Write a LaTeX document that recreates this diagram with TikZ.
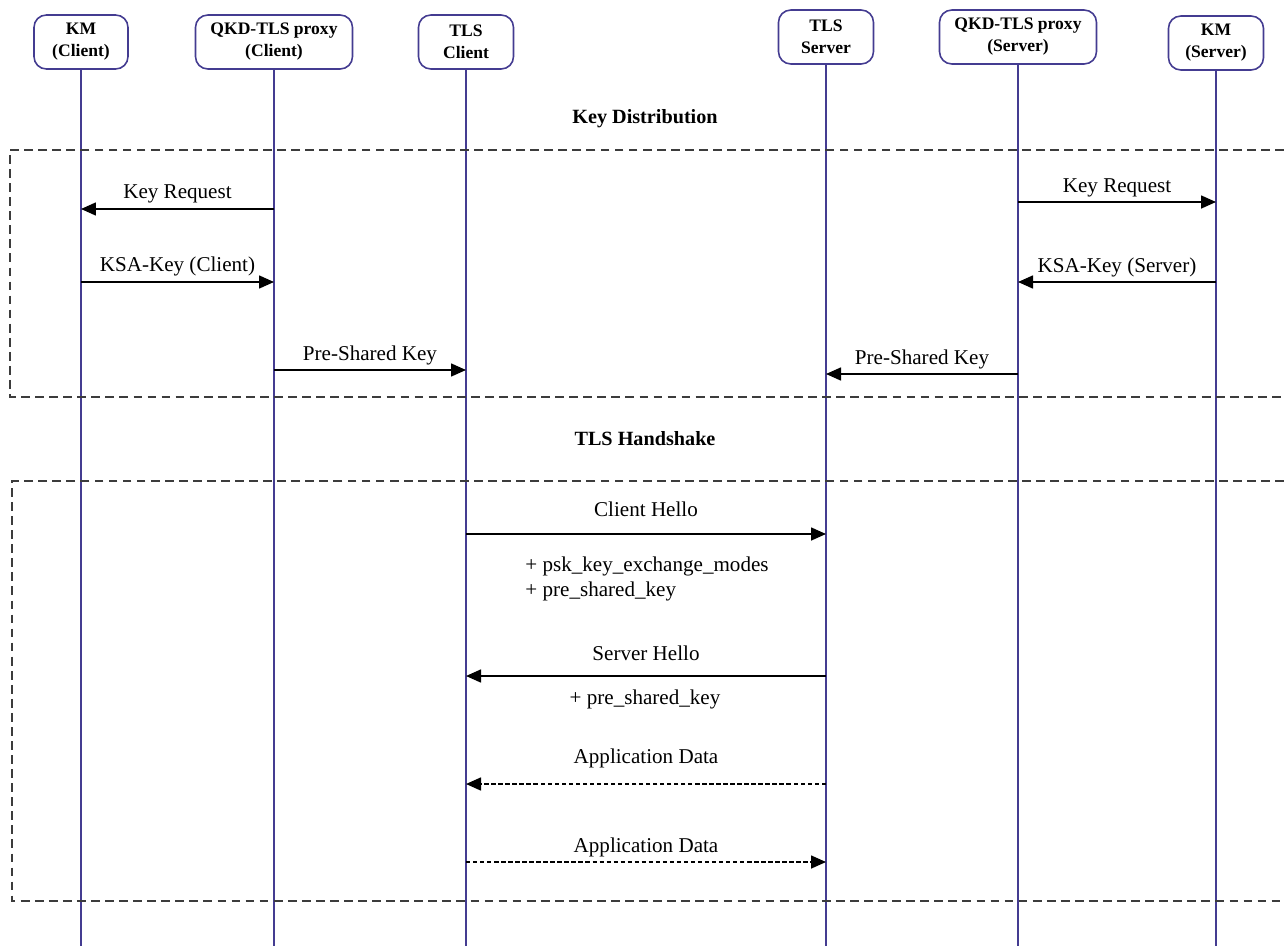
\documentclass[tikz,border=0pt]{standalone}
\usepackage{fontspec}
\setmainfont{Liberation Serif}
\usetikzlibrary{arrows.meta, calc}
\definecolor{lifeblue}{RGB}{68, 60, 145}
\definecolor{framegray}{RGB}{60, 60, 60}

\begin{document}
\begin{tikzpicture}[x=0.02cm, y=-0.02cm,
  actor/.style={draw=lifeblue, line width=0.9pt, rounded corners=7pt, fill=white, minimum height=1.08cm, align=center, font=\fontsize{10}{12.5}\selectfont\bfseries, inner sep=2pt},
  lifeline/.style={draw=lifeblue, line width=0.9pt},
  msg/.style={line width=0.9pt, -{Triangle[length=3mm, width=2.6mm]}},
  reply/.style={msg, dash pattern=on 2.5pt off 1.5pt},
  lbl/.style={font=\fontsize{12}{14}\selectfont, inner sep=1pt},
  phase/.style={font=\fontsize{11.5}{13}\selectfont\bfseries},
  frame/.style={draw=framegray, line width=0.7pt, dash pattern=on 5pt off 3pt}]

  \useasboundingbox (0,0) rectangle (1284,946);

  % participants
  \node[actor, minimum width=1.88cm] (kmc) at (81,42) {KM\\(Client)};
  \node[actor, minimum width=3.14cm] (qkdc) at (274,42) {QKD-TLS proxy\\(Client)};
  \node[actor, minimum width=1.9cm] (tlsc) at (466,42) {TLS\\Client};
  \node[actor, minimum width=1.9cm] (tlss) at (826,37) {TLS\\Server};
  \node[actor, minimum width=3.14cm] (qkds) at (1018,37) {QKD-TLS proxy\\(Server)};
  \node[actor, minimum width=1.9cm] (kms) at (1216,43) {KM\\(Server)};

  % lifelines
  \coordinate (bot) at (0,946);
  \foreach \p in {kmc, qkdc, tlsc, tlss, qkds, kms}
    \draw[lifeline] (\p.south) -- (\p |- bot);

  % key distribution
  \node[phase] (kdist) at (645,119) {Key Distribution};
  \draw[frame] (1284,150) -- (10,150) -- (10,397) -- (1284,397);

  \draw[msg] (qkdc |- 0,209) -- node[lbl, above=1.8pt] {Key Request} (kmc |- 0,209);
  \draw[msg] (kmc |- 0,282) -- node[lbl, above=1.8pt] {KSA-Key (Client)} (qkdc |- 0,282);
  \draw[msg] (qkdc |- 0,370) -- node[lbl, above=1.5pt] {Pre-Shared Key} (tlsc |- 0,370);
  \draw[msg] (qkds |- 0,202) -- node[lbl, above=1.5pt] {Key Request} (kms |- 0,202);
  \draw[msg] (kms |- 0,282) -- node[lbl, above=1.5pt] {KSA-Key (Server)} (qkds |- 0,282);
  \draw[msg] (qkds |- 0,374) -- node[lbl, above=1.5pt] {Pre-Shared Key} (tlss |- 0,374);

  % tls handshake
  \node[phase] (hshake) at (645,439) {TLS Handshake};
  \draw[frame] (1284,481) -- (12,481) -- (12,901) -- (1284,901);

  \draw[msg] (tlsc |- 0,534) -- node[lbl, above=8.5pt] {Client Hello} (tlss |- 0,534);
  \node[lbl, align=left] (chext) at (647,579) {+ psk\_key\_exchange\_modes\\+ pre\_shared\_key};
  \draw[msg] (tlss |- 0,676) -- node[lbl, above=7pt] {Server Hello} (tlsc |- 0,676);
  \node[lbl] (shext) at (645,699) {+ pre\_shared\_key};
  \draw[reply] (tlss |- 0,784) -- node[lbl, above=7.5pt] {Application Data} (tlsc |- 0,784);
  \draw[reply] (tlsc |- 0,862) -- node[lbl, above=1.5pt] {Application Data} (tlss |- 0,862);
\end{tikzpicture}
\end{document}
